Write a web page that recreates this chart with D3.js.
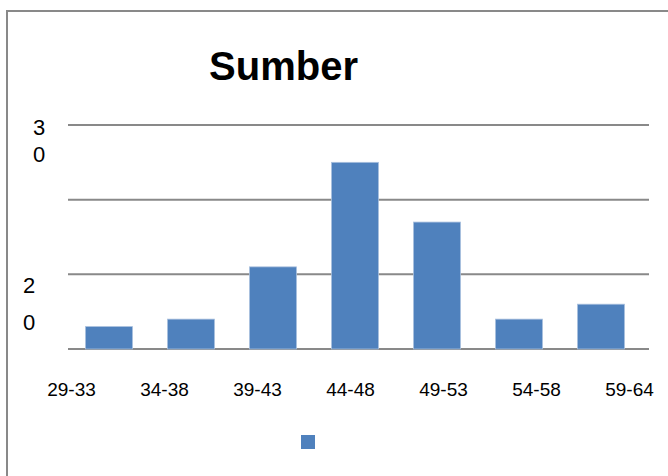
<!DOCTYPE html>
<html>
<head>
<meta charset="utf-8">
<script src="https://cdn.jsdelivr.net/npm/d3@7"></script>
<style>
  body { margin: 0; background: #fff; }
  svg { display: block; }
</style>
</head>
<body>
<script>
// data
let categories = ["29-33", "34-38", "39-43", "44-48", "49-53", "54-58", "59-64"]
let values = [3, 4, 11, 25, 17, 4, 6]
let gridTicks = [0, 10, 20, 30]
let yLabelText = ["30", "20"]
let yLabelValue = [30, 10]
let title = "Sumber"

let W = 668, H = 476
let plot = {left: 68, right: 649, top: 125, bottom: 349}
let barColor = "#4f81bd"
let gridColor = "#898989"

let svg = d3.select("body")
  .append("svg")
  .attr("width", W)
  .attr("height", H)

// chart frame (right and bottom edges fall outside the picture)
svg.append("rect")
  .attr("x", 7).attr("y", 11)
  .attr("width", 720).attr("height", 520)
  .attr("fill", "none")
  .attr("stroke", gridColor)
  .attr("stroke-width", 2)

// scales
let y = d3.scaleLinear().domain([0, 30]).range([plot.bottom, plot.top])
let x = d3.scaleBand()
  .domain(categories)
  .range([plot.left, 642])
  .paddingInner(0.427)
  .paddingOuter(0.2135)
// labels are spread wider than the bars in the original
let xLab = d3.scalePoint().domain(categories).range([71, 629])

// gridlines
svg.append("g")
  .selectAll("line")
  .data(gridTicks)
  .enter()
  .append("line")
  .attr("x1", plot.left)
  .attr("x2", plot.right)
  .attr("y1", d => y(d))
  .attr("y2", d => y(d))
  .attr("stroke", gridColor)
  .attr("stroke-width", 2)

// bars
svg.append("g")
  .selectAll("rect")
  .data(values)
  .enter()
  .append("rect")
  .attr("x", (d, i) => x(categories[i]))
  .attr("y", d => y(d))
  .attr("width", x.bandwidth())
  .attr("height", d => y(0) - y(d))
  .attr("fill", barColor)
  .attr("stroke", "#a9c0de")
  .attr("stroke-width", 0.8)

// x axis labels
let xAxis = svg.append("g")
  .attr("transform", "translate(0,382)")
  .call(d3.axisBottom(xLab).tickSize(0).tickPadding(0))
xAxis.select(".domain").remove()
xAxis.selectAll("text")
  .attr("y", 14)
  .attr("dy", 0)
  .attr("fill", "#000")
  .style("font-family", "'Liberation Sans', Arial, sans-serif")
  .style("font-size", "19px")

// y labels, wrapped one digit per line like the original
let lineOffsets = [[10, 37], [19, 56]]
let labelX = [39, 29]
yLabelText.forEach((t, i) => {
  let txt = svg.append("text")
    .attr("text-anchor", "middle")
    .style("font-family", "'Liberation Sans', Arial, sans-serif")
    .style("font-size", "22px")
    .attr("fill", "#000")
  t.split("").forEach((ch, j) => {
    txt.append("tspan")
      .attr("x", labelX[i])
      .attr("y", y(yLabelValue[i]) + lineOffsets[i][j])
      .text(ch)
  })
})

// title
svg.append("text")
  .attr("x", 283.5)
  .attr("y", 80)
  .attr("text-anchor", "middle")
  .style("font-family", "'Liberation Sans', Arial, sans-serif")
  .style("font-weight", "bold")
  .style("font-size", "40px")
  .text(title)

// legend marker (no label in the original)
svg.append("rect")
  .attr("x", 301).attr("y", 435)
  .attr("width", 14).attr("height", 14)
  .attr("fill", barColor)
</script>
</body>
</html>
